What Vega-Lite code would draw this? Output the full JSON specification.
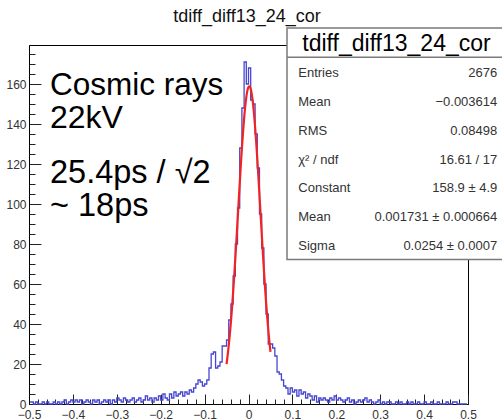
{
  "$schema": "https://vega.github.io/schema/vega-lite/v6.json",
  "width": 439,
  "height": 359,
  "autosize": {"type": "none"},
  "padding": {"left": 29, "top": 45, "right": 34, "bottom": 16},
  "background": "white",
  "config": {
    "view": {"stroke": "#000", "strokeWidth": 1},
    "font": "Liberation Sans"
  },
  "datasets": {
    "hist": [
      {"x":-0.4975,"n":1},{"x":-0.4925,"n":1},{"x":-0.4875,"n":0},{"x":-0.4825,"n":1},{"x":-0.4775,"n":0},
      {"x":-0.4725,"n":0},{"x":-0.4675,"n":1},{"x":-0.4625,"n":0},{"x":-0.4575,"n":1},{"x":-0.4525,"n":0},
      {"x":-0.4475,"n":0},{"x":-0.4425,"n":1},{"x":-0.4375,"n":0},{"x":-0.4325,"n":1},{"x":-0.4275,"n":0},
      {"x":-0.4225,"n":1},{"x":-0.4175,"n":2},{"x":-0.4125,"n":0},{"x":-0.4075,"n":1},{"x":-0.4025,"n":2},
      {"x":-0.3975,"n":1},{"x":-0.3925,"n":2},{"x":-0.3875,"n":1},{"x":-0.3825,"n":2},{"x":-0.3775,"n":0},
      {"x":-0.3725,"n":1},{"x":-0.3675,"n":2},{"x":-0.3625,"n":1},{"x":-0.3575,"n":0},{"x":-0.3525,"n":2},
      {"x":-0.3475,"n":1},{"x":-0.3425,"n":2},{"x":-0.3375,"n":0},{"x":-0.3325,"n":1},{"x":-0.3275,"n":2},
      {"x":-0.3225,"n":1},{"x":-0.3175,"n":2},{"x":-0.3125,"n":0},{"x":-0.3075,"n":2},{"x":-0.3025,"n":1},
      {"x":-0.2975,"n":3},{"x":-0.2925,"n":2},{"x":-0.2875,"n":1},{"x":-0.2825,"n":3},{"x":-0.2775,"n":2},
      {"x":-0.2725,"n":1},{"x":-0.2675,"n":2},{"x":-0.2625,"n":3},{"x":-0.2575,"n":1},{"x":-0.2525,"n":2},
      {"x":-0.2475,"n":3},{"x":-0.2425,"n":1},{"x":-0.2375,"n":2},{"x":-0.2325,"n":4},{"x":-0.2275,"n":2},
      {"x":-0.2225,"n":3},{"x":-0.2175,"n":1},{"x":-0.2125,"n":3},{"x":-0.2075,"n":2},{"x":-0.2025,"n":4},
      {"x":-0.1975,"n":2},{"x":-0.1925,"n":5},{"x":-0.1875,"n":3},{"x":-0.1825,"n":2},{"x":-0.1775,"n":5},
      {"x":-0.1725,"n":3},{"x":-0.1675,"n":6},{"x":-0.1625,"n":4},{"x":-0.1575,"n":5},{"x":-0.1525,"n":6},
      {"x":-0.1475,"n":4},{"x":-0.1425,"n":6},{"x":-0.1375,"n":5},{"x":-0.1325,"n":7},{"x":-0.1275,"n":6},
      {"x":-0.1225,"n":8},{"x":-0.1175,"n":10},{"x":-0.1125,"n":12},{"x":-0.1075,"n":11},{"x":-0.1025,"n":9},
      {"x":-0.0975,"n":10},{"x":-0.0925,"n":12},{"x":-0.0875,"n":18},{"x":-0.0825,"n":25},{"x":-0.0775,"n":26},
      {"x":-0.0725,"n":18},{"x":-0.0675,"n":19},{"x":-0.0625,"n":21},{"x":-0.0575,"n":29},{"x":-0.0525,"n":29},
      {"x":-0.0475,"n":32},{"x":-0.0425,"n":42},{"x":-0.0375,"n":50},{"x":-0.0325,"n":64},{"x":-0.0275,"n":80},
      {"x":-0.0225,"n":98},{"x":-0.0175,"n":128},{"x":-0.0125,"n":148},{"x":-0.0075,"n":171},{"x":-0.0025,"n":160},
      {"x":0.0025,"n":168},{"x":0.0075,"n":152},{"x":0.0125,"n":150},{"x":0.0175,"n":135},{"x":0.0225,"n":118},
      {"x":0.0275,"n":95},{"x":0.0325,"n":78},{"x":0.0375,"n":60},{"x":0.0425,"n":45},{"x":0.0475,"n":30},
      {"x":0.0525,"n":30},{"x":0.0575,"n":28},{"x":0.0625,"n":24},{"x":0.0675,"n":16},{"x":0.0725,"n":15},
      {"x":0.0775,"n":12},{"x":0.0825,"n":9},{"x":0.0875,"n":8},{"x":0.0925,"n":5},{"x":0.0975,"n":8},
      {"x":0.1025,"n":6},{"x":0.1075,"n":7},{"x":0.1125,"n":4},{"x":0.1175,"n":7},{"x":0.1225,"n":5},
      {"x":0.1275,"n":6},{"x":0.1325,"n":3},{"x":0.1375,"n":5},{"x":0.1425,"n":4},{"x":0.1475,"n":2},
      {"x":0.1525,"n":4},{"x":0.1575,"n":1},{"x":0.1625,"n":3},{"x":0.1675,"n":2},{"x":0.1725,"n":3},
      {"x":0.1775,"n":2},{"x":0.1825,"n":1},{"x":0.1875,"n":3},{"x":0.1925,"n":2},{"x":0.1975,"n":4},
      {"x":0.2025,"n":2},{"x":0.2075,"n":3},{"x":0.2125,"n":2},{"x":0.2175,"n":1},{"x":0.2225,"n":2},
      {"x":0.2275,"n":3},{"x":0.2325,"n":1},{"x":0.2375,"n":2},{"x":0.2425,"n":0},{"x":0.2475,"n":1},
      {"x":0.2525,"n":2},{"x":0.2575,"n":1},{"x":0.2625,"n":2},{"x":0.2675,"n":3},{"x":0.2725,"n":1},
      {"x":0.2775,"n":2},{"x":0.2825,"n":1},{"x":0.2875,"n":0},{"x":0.2925,"n":1},{"x":0.2975,"n":2},
      {"x":0.3025,"n":0},{"x":0.3075,"n":1},{"x":0.3125,"n":0},{"x":0.3175,"n":1},{"x":0.3225,"n":1},
      {"x":0.3275,"n":0},{"x":0.3325,"n":0},{"x":0.3375,"n":1},{"x":0.3425,"n":0},{"x":0.3475,"n":1},
      {"x":0.3525,"n":0},{"x":0.3575,"n":0},{"x":0.3625,"n":1},{"x":0.3675,"n":0},{"x":0.3725,"n":1},
      {"x":0.3775,"n":0},{"x":0.3825,"n":0},{"x":0.3875,"n":1},{"x":0.3925,"n":0},{"x":0.3975,"n":0},
      {"x":0.4025,"n":1},{"x":0.4075,"n":0},{"x":0.4125,"n":0},{"x":0.4175,"n":1},{"x":0.4225,"n":0},
      {"x":0.4275,"n":0},{"x":0.4325,"n":1},{"x":0.4375,"n":0},{"x":0.4425,"n":0},{"x":0.4475,"n":0},
      {"x":0.4525,"n":1},{"x":0.4575,"n":0},{"x":0.4625,"n":0},{"x":0.4675,"n":1},{"x":0.4725,"n":1},
      {"x":0.4775,"n":0},{"x":0.4825,"n":0},{"x":0.4875,"n":0},{"x":0.4925,"n":0},{"x":0.4975,"n":0}
    ],
    "fit": [
      {"x":-0.05,"n":19.97},{"x":-0.0475,"n":24.29},{"x":-0.045,"n":29.25},{"x":-0.0425,"n":34.89},
      {"x":-0.04,"n":41.21},{"x":-0.0375,"n":48.2},{"x":-0.035,"n":55.85},{"x":-0.0325,"n":64.07},
      {"x":-0.03,"n":72.81},{"x":-0.0275,"n":81.95},{"x":-0.025,"n":91.34},{"x":-0.0225,"n":100.81},
      {"x":-0.02,"n":110.2},{"x":-0.0175,"n":119.31},{"x":-0.015,"n":127.92},{"x":-0.0125,"n":135.81},
      {"x":-0.01,"n":142.82},{"x":-0.0075,"n":148.75},{"x":-0.005,"n":153.42},{"x":-0.0025,"n":156.71},
      {"x":0,"n":158.53},{"x":0.0025,"n":158.83},{"x":0.005,"n":157.59},{"x":0.0075,"n":154.85},
      {"x":0.01,"n":150.7},{"x":0.0125,"n":145.24},{"x":0.015,"n":138.63},{"x":0.0175,"n":131.05},
      {"x":0.02,"n":122.69},{"x":0.0225,"n":113.74},{"x":0.025,"n":104.44},{"x":0.0275,"n":94.98},
      {"x":0.03,"n":85.54},{"x":0.0325,"n":76.29},{"x":0.035,"n":67.39},{"x":0.0375,"n":58.95},
      {"x":0.04,"n":51.08},{"x":0.0425,"n":43.82},{"x":0.045,"n":37.24},{"x":0.0475,"n":31.34},
      {"x":0.05,"n":26.12}
    ],
    "stats": [
      {"row":0,"label":"Entries","value":"2676"},
      {"row":1,"label":"Mean","value":"−0.003614"},
      {"row":2,"label":"RMS","value":"0.08498"},
      {"row":3,"label":"χ² / ndf","value":"16.61 / 17"},
      {"row":4,"label":"Constant","value":"158.9 ± 4.9"},
      {"row":5,"label":"Mean","value":"0.001731 ± 0.000664"},
      {"row":6,"label":"Sigma","value":"0.0254 ± 0.0007"}
    ]
  },
  "layer": [
    {
      "layer": [
        {
          "data": {"name": "hist"},
          "mark": {"type": "line", "interpolate": "step", "color": "#4646d2", "strokeWidth": 1.3},
          "encoding": {
            "x": {
              "field": "x", "type": "quantitative", "title": null,
              "scale": {"domain": [-0.5, 0.5], "nice": false, "zero": false},
              "axis": {
                "orient": "bottom", "title": null, "grid": false, "format": "~g",
                "values": [-0.5,-0.4,-0.3,-0.2,-0.1,0,0.1,0.2,0.3,0.4,0.5],
                "tickSize": -10, "labelPadding": 15,
                "labelFlush": false, "labelOverlap": false, "labelBound": false,
                "domainColor": "#000", "tickColor": "#222", "tickWidth": 1,
                "labelFont": "Liberation Sans", "labelFontSize": 12, "labelColor": "#333"
              }
            },
            "y": {
              "field": "n", "type": "quantitative", "title": null,
              "scale": {"domain": [0, 179.5], "nice": false},
              "axis": {
                "orient": "left", "title": null, "grid": false, "format": "d",
                "values": [0,20,40,60,80,100,120,140,160],
                "tickSize": -12, "labelPadding": 15,
                "labelFlush": false, "labelOverlap": false, "labelBound": false,
                "domainColor": "#000", "tickColor": "#222", "tickWidth": 1,
                "labelFont": "Liberation Sans", "labelFontSize": 12, "labelColor": "#333"
              }
            }
          }
        },
        {
          "data": {"name": "fit"},
          "mark": {"type": "line", "interpolate": "monotone", "color": "#f02424", "strokeWidth": 2.2},
          "encoding": {
            "x": {
              "field": "x", "type": "quantitative", "title": null,
              "axis": {
                "orient": "bottom", "title": null, "grid": false, "labels": false, "domain": false,
                "values": [-0.48,-0.46,-0.44,-0.42,-0.38,-0.36,-0.34,-0.32,-0.28,-0.26,-0.24,-0.22,-0.18,-0.16,-0.14,-0.12,-0.08,-0.06,-0.04,-0.02,0.02,0.04,0.06,0.08,0.12,0.14,0.16,0.18,0.22,0.24,0.26,0.28,0.32,0.34,0.36,0.38,0.42,0.44,0.46,0.48],
                "tickSize": -5, "tickColor": "#222", "tickWidth": 1
              }
            },
            "y": {
              "field": "n", "type": "quantitative", "title": null,
              "axis": {
                "orient": "left", "title": null, "grid": false, "labels": false, "domain": false,
                "values": [5,10,15,25,30,35,45,50,55,65,70,75,85,90,95,105,110,115,125,130,135,145,150,155,165,170,175],
                "tickSize": -6, "tickColor": "#222", "tickWidth": 1
              }
            }
          }
        },
        {
          "data": {"values": [{"t": "tdiff_diff13_24_cor"}]},
          "mark": {"type": "text", "align": "center", "baseline": "alphabetic", "font": "Liberation Sans", "fontSize": 18, "color": "#111"},
          "encoding": {"x": {"datum": -0.0034, "axis": null}, "y": {"datum": 191, "axis": null}, "text": {"field": "t"}}
        },
        {
          "data": {"values": [{"t": "Cosmic rays"}]},
          "mark": {"type": "text", "align": "left", "baseline": "alphabetic", "font": "Liberation Sans", "fontSize": 31.5, "color": "#000"},
          "encoding": {"x": {"datum": -0.4522, "axis": null}, "y": {"datum": 154.5, "axis": null}, "text": {"field": "t"}}
        },
        {
          "data": {"values": [{"t": "22kV"}]},
          "mark": {"type": "text", "align": "left", "baseline": "alphabetic", "font": "Liberation Sans", "fontSize": 32, "color": "#000"},
          "encoding": {"x": {"datum": -0.4522, "axis": null}, "y": {"datum": 138, "axis": null}, "text": {"field": "t"}}
        },
        {
          "data": {"values": [{"t": "25.4ps / √2"}]},
          "mark": {"type": "text", "align": "left", "baseline": "alphabetic", "font": "Liberation Sans", "fontSize": 32.5, "color": "#000"},
          "encoding": {"x": {"datum": -0.4522, "axis": null}, "y": {"datum": 110.5, "axis": null}, "text": {"field": "t"}}
        },
        {
          "data": {"values": [{"t": "~ 18ps"}]},
          "mark": {"type": "text", "align": "left", "baseline": "alphabetic", "font": "Liberation Sans", "fontSize": 32.5, "color": "#000"},
          "encoding": {"x": {"datum": -0.4522, "axis": null}, "y": {"datum": 94, "axis": null}, "text": {"field": "t"}}
        },
        {
          "data": {"values": [{"box": "stats"}]},
          "mark": {"type": "rect", "fill": "#fff", "stroke": "#7a7a7a", "strokeWidth": 1.5},
          "encoding": {"x": {"datum": 0.0877, "axis": null}, "x2": {"datum": 0.585}, "y": {"datum": 188, "axis": null}, "y2": {"datum": 72.25}}
        },
        {
          "data": {"values": [{"box": "stats"}]},
          "mark": {"type": "rule", "stroke": "#7a7a7a", "strokeWidth": 1.5},
          "encoding": {"x": {"datum": 0.0877, "axis": null}, "x2": {"datum": 0.585}, "y": {"datum": 173.35, "axis": null}}
        },
        {
          "data": {"values": [{"t": "tdiff_diff13_24_cor"}]},
          "mark": {"type": "text", "align": "center", "baseline": "alphabetic", "font": "Liberation Sans", "fontSize": 23, "color": "#000"},
          "encoding": {"x": {"datum": 0.3371, "axis": null}, "y": {"datum": 176.75, "axis": null}, "text": {"field": "t"}}
        }
      ],
      "resolve": {"axis": {"x": "independent", "y": "independent"}}
    },
    {
      "data": {"name": "stats"},
      "mark": {"type": "text", "align": "left", "baseline": "middle", "font": "Liberation Sans", "fontSize": 13, "color": "#333"},
      "encoding": {
        "x": {"datum": 0.1134, "axis": null},
        "y": {"field": "row", "type": "quantitative", "title": null, "scale": {"domain": [-0.9826, 11.4827], "reverse": true, "nice": false, "zero": false}, "axis": null},
        "text": {"field": "label"}
      }
    },
    {
      "data": {"name": "stats"},
      "mark": {"type": "text", "align": "right", "baseline": "middle", "font": "Liberation Sans", "fontSize": 13, "color": "#333"},
      "encoding": {
        "x": {"datum": 0.5667, "axis": null},
        "y": {"field": "row", "type": "quantitative", "title": null, "scale": {"domain": [-0.9826, 11.4827], "reverse": true, "nice": false, "zero": false}, "axis": null},
        "text": {"field": "value"}
      }
    }
  ],
  "resolve": {"scale": {"y": "independent"}}
}
